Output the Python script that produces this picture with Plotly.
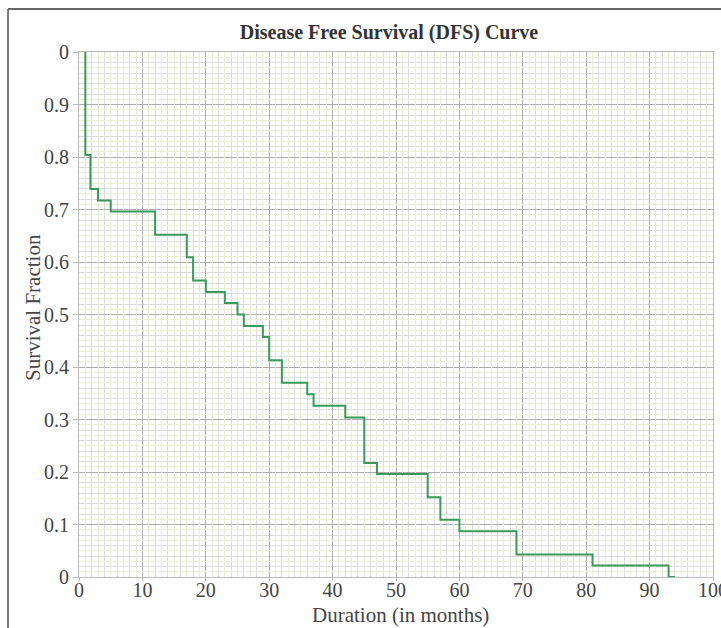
import plotly.graph_objects as go

# Kaplan-Meier step data (time in months, survival fraction after the event)
times = [1, 1, 1.8, 3, 5, 12, 17, 18, 20, 23, 25, 26, 29, 30, 32, 36, 37, 42, 45, 47, 55, 57, 60, 69, 81, 93, 94]
survival = [1.0, 0.804, 0.739, 0.717, 0.696, 0.652, 0.609, 0.565, 0.543, 0.522, 0.500, 0.478, 0.457,
            0.413, 0.370, 0.348, 0.326, 0.304, 0.217, 0.196, 0.152, 0.109, 0.087, 0.043, 0.022, 0.0, 0.0]

x_ticks = [0, 10, 20, 30, 40, 50, 60, 70, 80, 90, 100]
x_tick_labels = ["0", "10", "20", "30", "40", "50", "60", "70", "80", "90", "100"]
y_ticks = [0, 0.1, 0.2, 0.3, 0.4, 0.5, 0.6, 0.7, 0.8, 0.9, 1.0]
y_tick_labels = ["0", "0.1", "0.2", "0.3", "0.4", "0.5", "0.6", "0.7", "0.8", "0.9", "0"]

FONT = "Liberation Serif"
W, H = 721, 628
OFF = 0  # body margin removed via post_script
# target plot area in window pixels: left 79, right 713, top 52, bottom 577
L = 79 - OFF
T = 52 - OFF
R = W - (713 - OFF)
B = H - (577 - OFF)
pw, ph = W - L - R, H - T - B


def px(xw):
    return (xw - OFF - L) / pw


def py(yw):
    return (H - B - (yw - OFF)) / ph


fig = go.Figure()
# empty trace to activate the overlaid grid axes
fig.add_trace(go.Scatter(x=[], y=[], xaxis="x2", yaxis="y2", showlegend=False, hoverinfo="skip"))
fig.add_trace(go.Scatter(
    x=times, y=survival, mode="lines", line=dict(shape="hv", color="#3a9a5c", width=2),
    showlegend=False,
))

fig.update_layout(
    width=W, height=H,
    margin=dict(l=L, r=R, t=T, b=B, autoexpand=False),
    paper_bgcolor="white", plot_bgcolor="white",
    font=dict(family=FONT, color="#444444", size=20),
    title=dict(text="<b>Disease Free Survival (DFS) Curve</b>", x=(389 - OFF) / W, xanchor="center",
               y=1 - (32 - OFF) / H, yanchor="middle", xref="container", yref="container",
               font=dict(family=FONT, size=20, color="#333333")),
    xaxis=dict(range=[0, 100], tickvals=x_ticks, ticktext=x_tick_labels, automargin=False,
               showgrid=True, gridcolor="#adadad", gridwidth=1,
               minor=dict(dtick=2, tick0=0, showgrid=True, gridcolor="#dcdcdc", gridwidth=1, ticks=""),
               showline=True, linecolor="#bbbbbb", mirror=True, zeroline=False,
               ticks="outside", ticklen=3, tickcolor="#bbbbbb", ticklabelstandoff=-8,
               ticklabeloverflow="allow",
               tickfont=dict(size=20, family=FONT, color="#444444")),
    yaxis=dict(range=[0, 1], tickvals=y_ticks, ticktext=y_tick_labels, automargin=False,
               showgrid=True, gridcolor="#adadad", gridwidth=1,
               minor=dict(dtick=0.02, tick0=0, showgrid=True, gridcolor="#dcdcdc", gridwidth=1, ticks=""),
               showline=True, linecolor="#bbbbbb", mirror=True, zeroline=False,
               ticks="outside", ticklen=5, tickcolor="#bbbbbb",
               tickfont=dict(size=20, family=FONT, color="#444444")),
    xaxis2=dict(overlaying="x", range=[0, 100], tick0=1, dtick=2, showgrid=True,
                gridcolor="#e8efd6", gridwidth=1, showticklabels=False, ticks="",
                zeroline=False, showline=False),
    yaxis2=dict(overlaying="y", range=[0, 1], tick0=0.01, dtick=0.02, showgrid=True,
                gridcolor="#e8efd6", gridwidth=1, showticklabels=False, ticks="",
                zeroline=False, showline=False),
)

# axis titles
fig.add_annotation(text="Duration (in months)", xref="paper", yref="paper",
                   x=px(400), y=py(615), xanchor="center", yanchor="middle", showarrow=False,
                   font=dict(size=21, family=FONT, color="#444444"))
fig.add_annotation(text="Survival Fraction", xref="paper", yref="paper", textangle=-90,
                   x=px(33), y=py(307), xanchor="center", yanchor="middle", showarrow=False,
                   font=dict(size=21, family=FONT, color="#444444"))

# outer frame lines (top and left)
fig.add_shape(type="line", xref="paper", yref="paper", x0=px(8), x1=px(730), y0=py(9), y1=py(9),
              line=dict(color="#333333", width=1.5))
fig.add_shape(type="line", xref="paper", yref="paper", x0=px(8), x1=px(8), y0=py(9), y1=py(640),
              line=dict(color="#555555", width=1.5))

fig.write_html("out.html", config={"displayModeBar": False},
               post_script="document.body.style.margin='0';document.body.style.overflow='hidden';")
